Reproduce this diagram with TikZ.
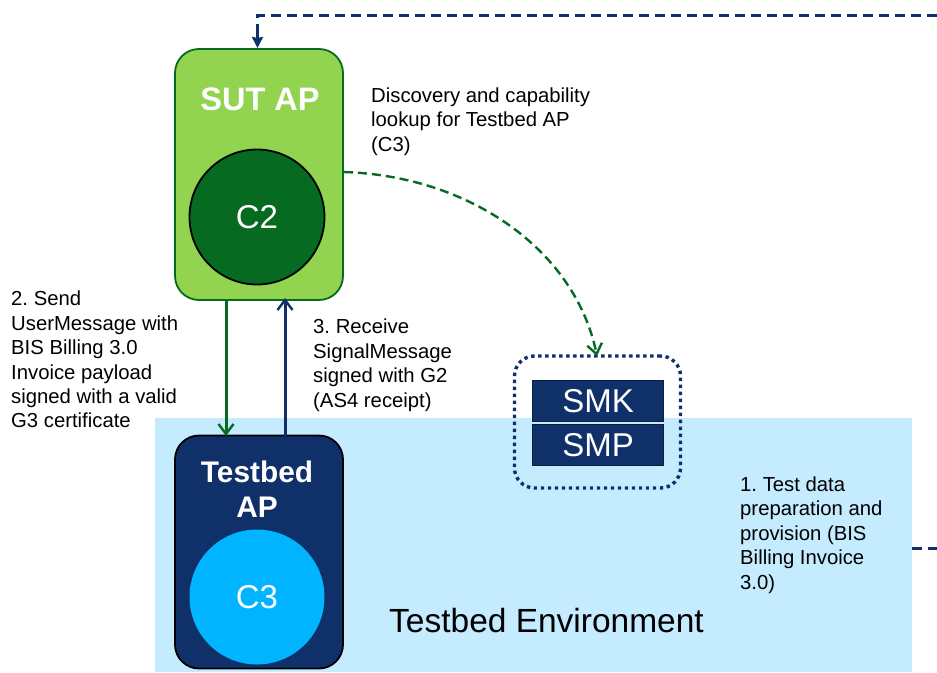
\documentclass[tikz,border=0pt]{standalone}
\usepackage{fontspec}
\setmainfont{Liberation Sans}
\usetikzlibrary{arrows.meta}
\definecolor{navy}{HTML}{0F3069}
\definecolor{navyd}{HTML}{0A1E40}
\definecolor{lgreen}{HTML}{92D450}
\definecolor{dgreen}{HTML}{066A21}
\definecolor{env}{HTML}{C5EBFF}
\definecolor{cyanc}{HTML}{00B4FF}
\tikzset{x=1pt,y=-1pt,
 lbl/.style={align=left,anchor=north west,inner sep=0pt,font=\fontsize{20.3}{24.4}\selectfont\frenchspacing,text=black},
 tip/.style={-{Stealth[length=11pt,width=11pt,inset=1pt]}},
 opentip/.style={-{Straight Barb[length=10pt,width=15pt,line width=2.4pt]}},
 title/.style={font=\bfseries\fontsize{32.5}{35}\selectfont,text=white,align=center,inner sep=0pt},
 circ/.style={circle,minimum size=135pt,inner sep=0pt,font=\fontsize{33}{36}\selectfont,text=white},
 bar/.style={fill=navy,draw=navyd,line width=1.5pt,minimum width=131pt,minimum height=41pt,inner sep=0pt,text=white,font=\fontsize{33}{36}\selectfont}}
\begin{document}
\begin{tikzpicture}
\useasboundingbox (0,0) rectangle (937,672);
\fill[env] (155,418) rectangle (912,672);
\node[draw=dgreen,fill=lgreen,line width=1.8pt,rounded corners=24pt,minimum width=168pt,minimum height=251pt,inner sep=0pt] (sut) at (259,174.5) {};
\node[title] (suttitle) at (260,99) {SUT AP};
\node[circ,draw=black,fill=dgreen,line width=1.8pt] (c2) at (257,217) {C2};
\node[draw=black,fill=navy,line width=1.8pt,rounded corners=24pt,minimum width=168pt,minimum height=233pt,inner sep=0pt] (tb) at (259,552) {};
\node[title,font=\bfseries\fontsize{29.8}{35}\selectfont] (tbtitle) at (257,489.5) {Testbed\\AP};
\node[circ,fill=cyanc] (c3) at (257,597) {C3};
\node[bar] (smk) at (598,401) {SMK};
\node[bar] (smp) at (598,445) {SMP};
\node[draw=navy,line width=3.4pt,dash pattern=on 3.4pt off 3.6pt,rounded corners=20pt,minimum width=166pt,minimum height=132pt,inner sep=0pt] (reg) at (597.5,422) {};
\node[lbl] (t1) at (371,87.5) {Discovery and capability\\lookup for Testbed AP\\(C3)};
\node[lbl] (t2) at (11,291) {2. Send\\UserMessage with\\BIS Billing 3.0\\Invoice payload\\signed with a valid\\G3 certificate};
\node[lbl] (t3) at (313,319) {3. Receive\\SignalMessage\\signed with G2\\(AS4 receipt)};
\node[lbl] (t4) at (740,476.5) {1. Test data\\preparation and\\provision (BIS\\Billing Invoice\\3.0)};
\node[inner sep=0pt,font=\fontsize{33.5}{36}\selectfont,text=black] (tenv) at (546.5,621) {Testbed Environment};
\coordinate (topend) at (937,15);
\coordinate (rightend) at (937,548);
\coordinate (rightstart) at (912,548);
\coordinate (sutin) at (257.5,48);
\coordinate (c2out) at (344,172);
\coordinate (regin) at (597,356);
\draw[navy,line width=3pt,dash pattern=on 10pt off 6pt] (topend) -- (257.5,15) -- (257.5,34);
\draw[navy,tip,line width=3pt] (257.5,32) -- (sutin);
\draw[navy,line width=3pt,dash pattern=on 10pt off 6pt] (rightstart) -- (rightend);
\draw[dgreen,line width=2.4pt,dash pattern=on 9pt off 5pt,opentip] (c2out) .. controls (470,176) and (575,250) .. (regin);
\draw[dgreen,line width=3pt,opentip] (226,300) -- (226,436);
\draw[navy,line width=3pt,opentip] (285,436) -- (285,298);
\end{tikzpicture}
\end{document}
